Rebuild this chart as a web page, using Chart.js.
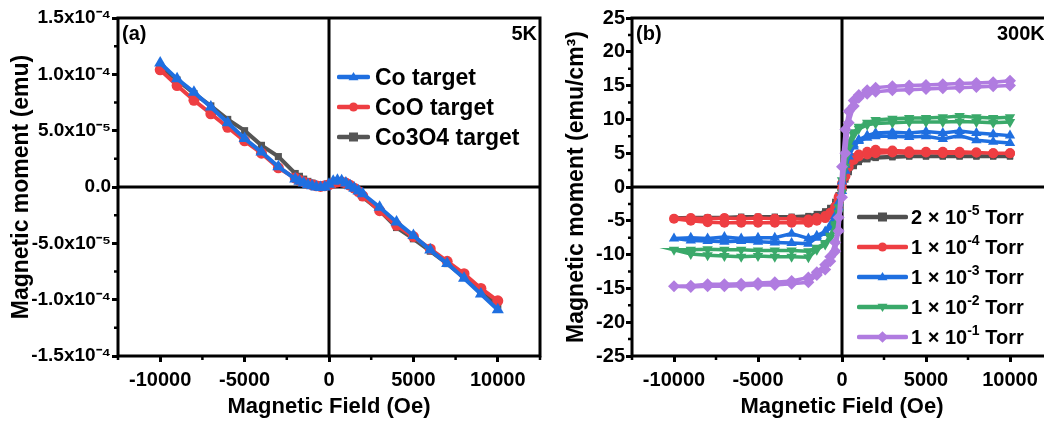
<!DOCTYPE html>
<html><head><meta charset="utf-8">
<script src="https://cdn.jsdelivr.net/npm/chart.js@4.4.0/dist/chart.umd.min.js"></script>
<style>
html,body{margin:0;padding:0;background:#fff;overflow:hidden;width:1044px;height:424px;}
#wrap{position:relative;width:1044px;height:424px;overflow:hidden;font-family:"Liberation Sans",Arial,sans-serif;font-weight:bold;color:#000;}
canvas{position:absolute;top:0;}
.lbl{position:absolute;font-size:20px;line-height:20px;white-space:nowrap;}
.leg{position:absolute;}
.leg .row{display:flex;align-items:center;height:30px;white-space:nowrap;}
.leg svg{display:block;}
.sup{font-size:14px;position:relative;top:-9px;}
</style></head>
<body>
<div id="wrap">
  <canvas id="cA" width="560" height="424" style="left:0;width:560px;height:424px"></canvas>
  <canvas id="cB" width="520" height="424" style="left:560px;width:520px;height:424px"></canvas>
  <div class="lbl" style="left:122px;top:23px">(a)</div>
  <div class="lbl" style="right:507px;top:23px">5K</div>
  <div class="lbl" style="left:636px;top:23px">(b)</div>
  <div class="lbl" style="left:997px;top:23px">300K</div>
  <div class="leg" id="legA" style="left:337px;top:62px;font-size:23px"></div>
  <div class="leg" id="legB" style="left:857px;top:202px;font-size:20px"></div>
</div>
<script>
// ---------- Panel (a): 5 K, M (emu) vs H (Oe) ----------
const H_LEFT = [-10000,-9000,-8000,-7000,-6000,-5000,-4000,-3000,
  -2000,-1750,-1500,-1250,-1000,-750,-500,-250,0,250,500,750,1000,1250,1500,1750,2000,
  3000,4000,5000,6000,7000,8000,9000,10000];
const M_CO = [110e-6,96e-6,84e-6,71e-6,57e-6,43e-6,31e-6,18e-6,
  7e-6,5e-6,3.5e-6,2e-6,1e-6,0,-0.5e-6,0,2.5e-6,5e-6,6e-6,5.5e-6,3.5e-6,1e-6,-1e-6,-3.5e-6,-6e-6,
  -18e-6,-31e-6,-43e-6,-56e-6,-68e-6,-81e-6,-95e-6,-109e-6];
const M_COO = [104e-6,90e-6,77e-6,65e-6,53e-6,41e-6,30e-6,17e-6,
  8e-6,6e-6,4.5e-6,3e-6,2e-6,1e-6,0.5e-6,1e-6,2e-6,3.5e-6,4.5e-6,4.5e-6,3.5e-6,1.5e-6,-1e-6,-4e-6,-8e-6,
  -21e-6,-34e-6,-44e-6,-55e-6,-66e-6,-77e-6,-90e-6,-101e-6];
const M_CO3O4 = [107e-6,95e-6,83e-6,72e-6,60e-6,50e-6,37e-6,27e-6,
  12e-6,9.5e-6,7e-6,5e-6,3.5e-6,2e-6,1.5e-6,2e-6,3e-6,3.5e-6,4e-6,3.5e-6,2.5e-6,0.5e-6,-2e-6,-5e-6,-9e-6,
  -21e-6,-36e-6,-46e-6,-57e-6,-68e-6,-80e-6,-93e-6,-105e-6];
const LEFT_LABELS = ['Co target','CoO target','Co3O4 target'];
const X_TICKS = [-10000,-5000,0,5000,10000];
const X_MINOR = [-12500,-7500,-2500,2500,7500,12500];
const Y_TICKS_A = [-1.5e-4,-1.0e-4,-5e-5,0,5e-5,1.0e-4,1.5e-4];
const Y_MINOR_A = [-1.25e-4,-7.5e-5,-2.5e-5,2.5e-5,7.5e-5,1.25e-4];

// ---------- Panel (b): 300 K, M (emu/cm3) vs H (Oe), loops ----------
const H_DESC = [10000,9000,8000,7000,6000,5000,4000,3000,2000,1500,1000,700,400,200,0,
  -200,-400,-700,-1000,-1500,-2000,-3000,-4000,-5000,-6000,-7000,-8000,-9000,-10000];
const H_ASC = [-9000,-8000,-7000,-6000,-5000,-4000,-3000,-2000,-1500,-1000,-700,-400,-200,0,
  200,400,700,1000,1500,2000,3000,4000,5000,6000,7000,8000,9000,10000];
const M_2E5_DESC = [4.6,4.6,4.6,4.6,4.6,4.6,4.6,4.5,4.4,4.2,3.8,3.3,2.5,1.4,0.2,
  -1.2,-2.2,-3.1,-3.6,-4.0,-4.3,-4.4,-4.4,-4.4,-4.4,-4.5,-4.5,-4.5,-4.6];
const M_2E5_ASC = [-4.6,-4.6,-4.6,-4.6,-4.6,-4.6,-4.6,-4.5,-4.3,-3.9,-3.4,-2.5,-1.4,-0.2,
  1.1,2.2,3.1,3.7,4.1,4.3,4.4,4.5,4.5,4.5,4.5,4.5,4.5,4.5];
const M_1E4_DESC = [5.0,5.0,5.1,5.2,5.2,5.2,5.3,5.4,5.5,5.2,4.8,4.3,3.5,2.2,0.5,
  -1.5,-2.9,-3.8,-4.3,-4.6,-4.8,-4.7,-4.7,-4.6,-4.7,-4.6,-4.7,-4.6,-4.7];
const M_1E4_ASC = [-5.0,-5.2,-5.3,-5.3,-5.3,-5.3,-5.3,-5.3,-5.0,-4.6,-4.1,-3.2,-2.0,-0.3,
  1.6,3.0,4.0,4.5,4.8,5.0,5.1,5.0,5.1,5.0,5.0,5.1,5.0,5.0];
const M_1E3_DESC = [7.6,7.8,8.0,8.3,8.0,8.2,8.0,8.1,8.0,7.6,7.0,6.3,5.1,3.3,0.8,
  -2.3,-4.3,-5.7,-6.6,-7.2,-7.6,-6.9,-7.5,-7.5,-7.6,-7.4,-7.6,-7.5,-7.6];
const M_1E3_ASC = [-7.9,-8.0,-8.1,-8.0,-8.1,-8.2,-8.3,-8.4,-7.5,-6.8,-6.0,-4.6,-3.0,-0.6,
  2.4,4.5,6.0,6.8,7.3,7.5,7.5,7.4,7.5,7.1,7.6,6.9,6.7,6.5];
const M_1E2_DESC = [10.3,10.2,10.3,10.5,10.3,10.2,10.2,10.1,9.9,9.5,8.9,8.1,6.6,4.3,1.0,
  -3.0,-5.5,-7.2,-8.3,-9.0,-9.5,-9.4,-9.4,-9.4,-9.3,-9.3,-9.2,-9.3,-9.3];
const M_1E2_ASC = [-9.9,-10.1,-10.2,-10.3,-10.2,-10.3,-10.3,-10.4,-9.3,-8.5,-7.5,-5.8,-3.8,-0.8,
  3.0,5.8,7.7,8.6,9.2,9.4,9.5,9.6,9.6,9.6,9.7,9.6,9.5,9.6];
const M_1E1_DESC = [15.7,15.5,15.4,15.3,15.2,15.1,15.0,14.9,14.7,14.3,13.6,12.8,11.2,8.5,3.0,
  -4.5,-8.2,-10.3,-11.5,-12.6,-13.4,-13.9,-14.1,-14.2,-14.3,-14.4,-14.4,-14.6,-14.7];
const M_1E1_ASC = [-14.8,-14.7,-14.7,-14.6,-14.5,-14.5,-14.3,-14.1,-13.0,-12.2,-11.0,-9.5,-6.5,-1.5,
  5.0,9.5,12.0,13.2,13.8,14.1,14.3,14.4,14.5,14.6,14.7,14.8,14.9,15.0];
const RIGHT_LABELS = [['2 × 10','-5',' Torr'],['1 × 10','-4',' Torr'],['1 × 10','-3',' Torr'],['1 × 10','-2',' Torr'],['1 × 10','-1',' Torr']];
const Y_TICKS_B = [-25,-20,-15,-10,-5,0,5,10,15,20,25];
const Y_MINOR_B = [-22.5,-17.5,-12.5,-7.5,-2.5,2.5,7.5,12.5,17.5,22.5];

// ---------- helpers ----------
const FAM = '"Liberation Sans", Arial, sans-serif';
Chart.defaults.font.family = FAM;
Chart.defaults.color = '#000';
const SUP = {'-':'⁻','0':'⁰','1':'¹','2':'²','3':'³','4':'⁴','5':'⁵','6':'⁶','7':'⁷','8':'⁸','9':'⁹'};
function sciLabel(v){
  if (Math.abs(v) < 1e-12) return '0.0';
  const e = Math.floor(Math.log10(Math.abs(v)) + 1e-9);
  const m = v / Math.pow(10, e);
  return m.toFixed(1) + 'x10' + String(e).split('').map(c => SUP[c]).join('');
}
const pts = (xs, ys) => xs.map((x, i) => ({x, y: ys[i]}));

const framePlugin = {
  id: 'frame',
  beforeDatasetsDraw(chart) {
    const {ctx, chartArea: a, scales: {x, y}} = chart;
    const x0 = x.getPixelForValue(0), y0 = y.getPixelForValue(0);
    ctx.save();
    ctx.strokeStyle = '#000'; ctx.lineWidth = 3;
    ctx.beginPath();
    ctx.moveTo(x0, a.top); ctx.lineTo(x0, a.bottom);
    ctx.moveTo(a.left, y0); ctx.lineTo(a.right, y0);
    ctx.stroke();
    ctx.restore();
  },
  afterDraw(chart, args, opts) {
    const {ctx, chartArea: a, scales: {x, y}} = chart;
    ctx.save();
    ctx.strokeStyle = '#000'; ctx.lineWidth = 3;
    ctx.strokeRect(a.left, a.top, a.right - a.left, a.bottom - a.top);
    ctx.lineWidth = 2.5;
    ctx.beginPath();
    (opts.xMinor || []).forEach(v => { const p = x.getPixelForValue(v); ctx.moveTo(p, a.bottom); ctx.lineTo(p, a.bottom + 4); });
    (opts.yMinor || []).forEach(v => { const p = y.getPixelForValue(v); ctx.moveTo(a.left, p); ctx.lineTo(a.left - 4, p); });
    ctx.stroke();
    ctx.restore();
  }
};

function axisX(title) {
  return {
    type: 'linear', min: -12500, max: 12500,
    afterBuildTicks: s => { s.ticks = X_TICKS.map(v => ({value: v})); },
    afterFit: s => { s.height = 68; },
    ticks: {font: {size: 20, weight: 'bold'}, color: '#000', padding: 6, maxRotation: 0, autoSkip: false, callback: v => String(v)},
    grid: {drawOnChartArea: false, drawTicks: true, tickLength: 6, tickWidth: 3, tickColor: '#000'},
    border: {display: false},
    title: {display: true, text: title, color: '#000', font: {size: 22, weight: 'bold'}, padding: {top: 0, bottom: 4}}
  };
}

function ds(label, data, color, style, rot, radius, lw, order) {
  return {label, data, showLine: true, borderColor: color, backgroundColor: color,
    borderWidth: lw, pointStyle: style, rotation: rot, pointRadius: radius, pointHoverRadius: radius,
    pointBorderWidth: 0, tension: 0, order};
}

const COLORS_A = ['#1f6fe0', '#ee3e42', '#555555'];
const STYLES_A = [['triangle', 0], ['circle', 0], ['rect', 0]];
const chartA = new Chart(document.getElementById('cA'), {
  type: 'scatter',
  data: {datasets: [
    ds(LEFT_LABELS[0], pts(H_LEFT, M_CO), COLORS_A[0], 'triangle', 0, 7, 4, 0),
    ds(LEFT_LABELS[1], pts(H_LEFT, M_COO), COLORS_A[1], 'circle', 0, 5.5, 4, 1),
    ds(LEFT_LABELS[2], pts(H_LEFT, M_CO3O4), COLORS_A[2], 'rect', 0, 5, 4, 2)
  ]},
  options: {
    responsive: false, animation: false, devicePixelRatio: 1,
    layout: {padding: {top: 18, right: 20, left: 0, bottom: 0}},
    plugins: {legend: {display: false}, tooltip: {enabled: false}, frame: {xMinor: X_MINOR, yMinor: Y_MINOR_A}},
    scales: {
      x: axisX('Magnetic Field (Oe)'),
      y: {
        type: 'linear', min: -1.5e-4, max: 1.5e-4,
        afterBuildTicks: s => { s.ticks = Y_TICKS_A.map(v => ({value: v})); },
        afterFit: s => { s.width = 118; },
        ticks: {font: {size: 19, weight: 'bold'}, color: '#000', padding: 1, callback: v => sciLabel(v)},
        grid: {drawOnChartArea: false, drawTicks: true, tickLength: 6, tickWidth: 3, tickColor: '#000'},
        border: {display: false},
        title: {display: true, text: 'Magnetic moment (emu)', color: '#000', font: {size: 23, weight: 'bold'}, padding: {top: 8, bottom: 0}}
      }
    }
  },
  plugins: [framePlugin]
});

const COLORS_B = ['#4f4f4f', '#ee3e42', '#1f6fe0', '#3aa96a', '#b07ce0'];
const STYLES_B = [['rect', 0], ['circle', 0], ['triangle', 0], ['triangle', 180], ['rectRot', 0]];
const RADII_B = [4.5, 5, 6, 6, 6];
const LOOPS = [
  [M_2E5_DESC, M_2E5_ASC], [M_1E4_DESC, M_1E4_ASC], [M_1E3_DESC, M_1E3_ASC],
  [M_1E2_DESC, M_1E2_ASC], [M_1E1_DESC, M_1E1_ASC]
];
const chartB = new Chart(document.getElementById('cB'), {
  type: 'scatter',
  data: {datasets: LOOPS.map((L, i) => ds(RIGHT_LABELS[i].join(''),
      pts(H_DESC, L[0]).concat(pts(H_ASC, L[1])),
      COLORS_B[i], STYLES_B[i][0], STYLES_B[i][1], RADII_B[i], 3.5, 4 - i))},
  options: {
    responsive: false, animation: false, devicePixelRatio: 1,
    layout: {padding: {top: 18, right: 28, left: 0, bottom: 0}},
    plugins: {legend: {display: false}, tooltip: {enabled: false}, frame: {xMinor: X_MINOR, yMinor: Y_MINOR_B}},
    scales: {
      x: axisX('Magnetic Field (Oe)'),
      y: {
        type: 'linear', min: -25, max: 25,
        afterBuildTicks: s => { s.ticks = Y_TICKS_B.map(v => ({value: v})); },
        afterFit: s => { s.width = 72; },
        ticks: {font: {size: 20, weight: 'bold'}, color: '#000', padding: 1, callback: v => String(v)},
        grid: {drawOnChartArea: false, drawTicks: true, tickLength: 6, tickWidth: 3, tickColor: '#000'},
        border: {display: false},
        title: {display: true, text: 'Magnetic moment (emu/cm³)', color: '#000', font: {size: 23, weight: 'bold'}, padding: {top: 3, bottom: 0}}
      }
    }
  },
  plugins: [framePlugin]
});

// ---------- HTML legends built from the datasets ----------
function markerSVG(w, color, style, rot, r) {
  const cx = w / 2, cy = 10;
  let m = '';
  if (style === 'circle') m = `<circle cx="${cx}" cy="${cy}" r="${r}" fill="${color}"/>`;
  else if (style === 'rect') m = `<rect x="${cx - r}" y="${cy - r}" width="${2 * r}" height="${2 * r}" fill="${color}"/>`;
  else if (style === 'rectRot') m = `<polygon points="${cx},${cy - r * 1.3} ${cx + r * 1.3},${cy} ${cx},${cy + r * 1.3} ${cx - r * 1.3},${cy}" fill="${color}"/>`;
  else if (style === 'triangle' && rot === 180) m = `<polygon points="${cx - r * 1.1},${cy - r * 0.7} ${cx + r * 1.1},${cy - r * 0.7} ${cx},${cy + r * 1.1}" fill="${color}"/>`;
  else m = `<polygon points="${cx - r * 1.1},${cy + r * 0.7} ${cx + r * 1.1},${cy + r * 0.7} ${cx},${cy - r * 1.1}" fill="${color}"/>`;
  return `<svg width="${w}" height="20"><line x1="2" y1="${cy}" x2="${w - 2}" y2="${cy}" stroke="${color}" stroke-width="4.5" stroke-linecap="round"/>${m}</svg>`;
}
const legA = document.getElementById('legA');
chartA.data.datasets.forEach((d, i) => {
  const row = document.createElement('div'); row.className = 'row';
  row.innerHTML = markerSVG(33, d.borderColor, STYLES_A[i][0], STYLES_A[i][1], 4.5) + `<span style="margin-left:5px">${d.label}</span>`;
  legA.appendChild(row);
});
const legB = document.getElementById('legB');
chartB.data.datasets.forEach((d, i) => {
  const t = RIGHT_LABELS[i];
  const row = document.createElement('div'); row.className = 'row';
  row.innerHTML = markerSVG(51, d.borderColor, STYLES_B[i][0], STYLES_B[i][1], 4.5) + `<span style="margin-left:3px">${t[0]}<span class="sup">${t[1]}</span>${t[2]}</span>`;
  legB.appendChild(row);
});
</script>
</body></html>
